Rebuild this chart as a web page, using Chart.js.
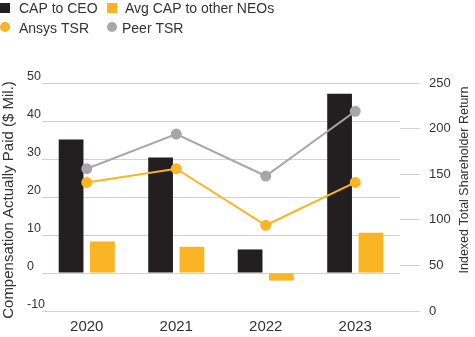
<!DOCTYPE html>
<html>
<head>
<meta charset="utf-8">
<script src="https://cdn.jsdelivr.net/npm/chart.js@4/dist/chart.umd.min.js"></script>
<style>
  html, body { margin: 0; padding: 0; background: #ffffff; }
  #wrap { position: relative; width: 475px; height: 337px; }
</style>
</head>
<body>
<div id="wrap"><canvas id="c" width="475" height="337"></canvas></div>
<script>
const categories = ['2020', '2021', '2022', '2023'];
const capToCEO = [35.1, 30.4, 6.2, 47.2];
const avgCapOtherNEOs = [8.3, 6.9, -2.0, 10.6];
const ansysTSR = [141, 156, 94, 141];
const peerTSR = [156, 194, 148, 219];
const leftTicks = [-10, 0, 10, 20, 30, 40, 50];
const rightTicks = [0, 50, 100, 150, 200, 250];

const FONT = "'Liberation Sans', Arial, sans-serif";
const TEXT = '#333333';
const GRID = '#d2d2d2';
const BLACK = '#231f20';
const ORANGE = '#fbb424';
const GRAY = '#a7a7a9';

const legendAndTitles = {
  id: 'legendAndTitles',
  afterDraw(chart) {
    const ctx = chart.ctx;
    const ds = chart.data.datasets;
    ctx.save();
    ctx.font = '14px ' + FONT;
    ctx.textBaseline = 'alphabetic';
    const slots = [
      { x: 0, y: 3, tx: 19, ty: 13 },
      { x: 107, y: 3, tx: 125, ty: 13 },
      { x: 0, y: 22, tx: 19, ty: 33 },
      { x: 107, y: 22, tx: 122, ty: 33 }
    ];
    ds.forEach((d, i) => {
      const s = slots[i];
      ctx.fillStyle = d.type === 'line' ? d.pointBackgroundColor : d.backgroundColor;
      if (d.type === 'line') {
        ctx.beginPath();
        ctx.arc(s.x + 5, s.y + 5, 5, 0, Math.PI * 2);
        ctx.fill();
      } else {
        ctx.fillRect(s.x, s.y, 10, 10);
      }
      ctx.fillStyle = TEXT;
      ctx.textAlign = 'left';
      ctx.fillText(d.label, s.tx, s.ty);
    });
    ctx.fillStyle = TEXT;
    ctx.textAlign = 'center';
    ctx.textBaseline = 'middle';
    ctx.save();
    ctx.font = '15px ' + FONT;
    ctx.translate(9, 200);
    ctx.rotate(-Math.PI / 2);
    ctx.fillText(chart.options.scales.y.customTitle, 0, 0);
    ctx.restore();
    ctx.save();
    ctx.font = '12.5px ' + FONT;
    ctx.translate(465, 180);
    ctx.rotate(-Math.PI / 2);
    ctx.fillText(chart.options.scales.y1.customTitle, 0, 0);
    ctx.restore();
    ctx.restore();
  }
};

new Chart(document.getElementById('c'), {
  data: {
    labels: categories,
    datasets: [
      { type: 'bar', label: 'CAP to CEO', data: capToCEO, backgroundColor: BLACK, yAxisID: 'y', order: 2,
        categoryPercentage: 0.70, barPercentage: 0.79 },
      { type: 'bar', label: 'Avg CAP to other NEOs', data: avgCapOtherNEOs, backgroundColor: ORANGE, yAxisID: 'y', order: 2,
        categoryPercentage: 0.70, barPercentage: 0.79 },
      { type: 'line', label: 'Ansys TSR', data: ansysTSR, borderColor: ORANGE, backgroundColor: ORANGE,
        pointBackgroundColor: ORANGE, pointBorderColor: ORANGE, pointRadius: 4.5, borderWidth: 2,
        yAxisID: 'y1', order: 1, tension: 0 },
      { type: 'line', label: 'Peer TSR', data: peerTSR, borderColor: GRAY, backgroundColor: GRAY,
        pointBackgroundColor: GRAY, pointBorderColor: GRAY, pointRadius: 4.5, borderWidth: 2,
        yAxisID: 'y1', order: 1, tension: 0 }
    ]
  },
  options: {
    responsive: false,
    animation: false,
    devicePixelRatio: 1,
    layout: { padding: { top: 83, left: 27, right: 0, bottom: 0 } },
    plugins: { legend: { display: false }, tooltip: { enabled: false } },
    scales: {
      x: {
        type: 'category',
        afterFit(scale) { scale.height = 26; },
        grid: { display: false, drawTicks: false },
        border: { display: false },
        ticks: { color: TEXT, font: { family: FONT, size: 15 }, padding: 7 }
      },
      y: {
        position: 'left',
        min: -10, max: 50,
        customTitle: 'Compensation Actually Paid ($ Mil.)',
        afterBuildTicks(scale) { scale.ticks = leftTicks.map(v => ({ value: v })); },
        afterFit(scale) { scale.width = 15; },
        grid: { display: true, drawOnChartArea: true, color: GRID, lineWidth: 1, drawTicks: false },
        border: { display: false },
        ticks: { color: TEXT, font: { family: FONT, size: 12.5 }, mirror: true, crossAlign: 'near', padding: -15, labelOffset: -6 }
      },
      y1: {
        position: 'right',
        min: 0, max: 250,
        customTitle: 'Indexed Total Shareholder Return',
        afterBuildTicks(scale) { scale.ticks = rightTicks.map(v => ({ value: v })); },
        afterFit(scale) { scale.width = 75; },
        grid: { display: true, color: GRID, lineWidth: 1, drawOnChartArea: false, drawTicks: true, tickLength: 20 },
        border: { display: false },
        ticks: { color: TEXT, font: { family: FONT, size: 13 }, padding: 9 }
      }
    }
  },
  plugins: [legendAndTitles]
});
</script>
</body>
</html>
